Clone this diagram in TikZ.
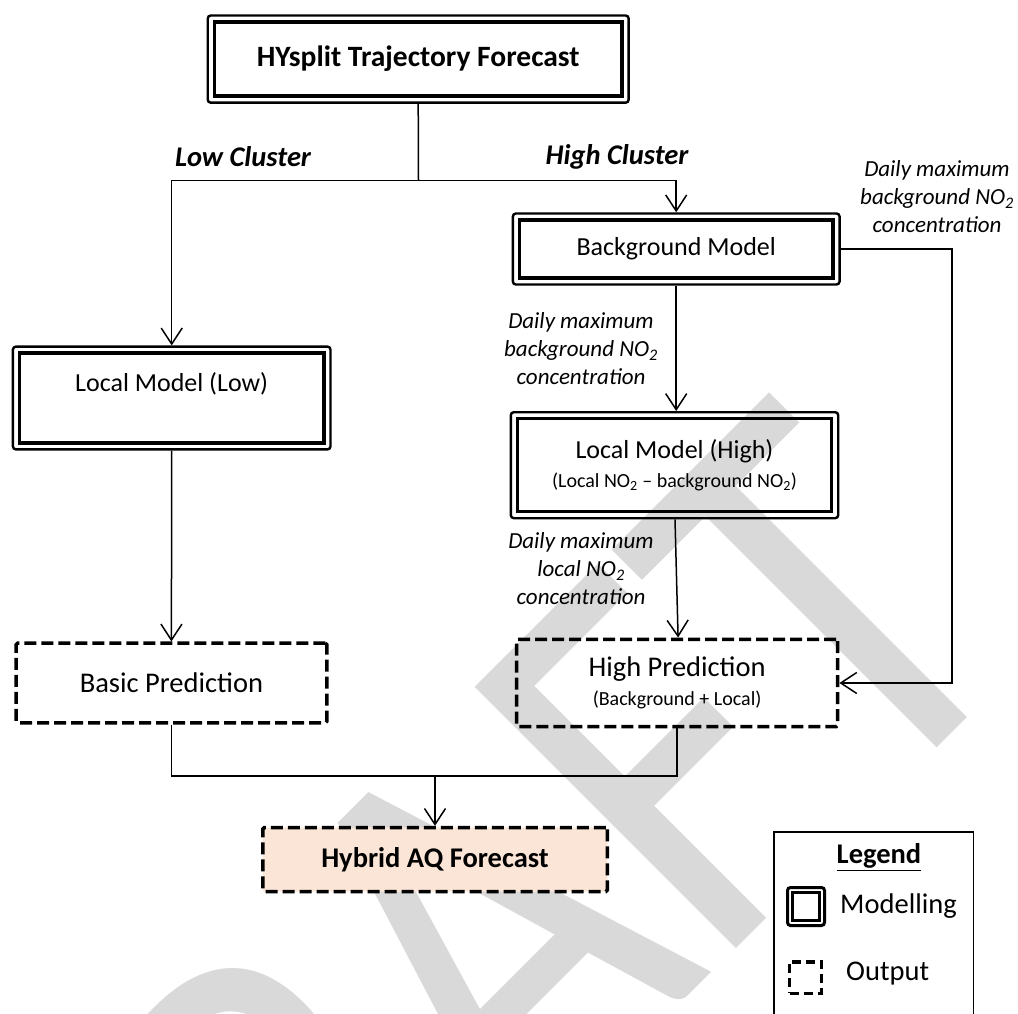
\documentclass[tikz,border=0pt]{standalone}
\usepackage{fontspec}
\usepackage{graphicx}
\setmainfont{Carlito}
\usetikzlibrary{arrows.meta}
\definecolor{peach}{HTML}{FBE5D6}
\definecolor{wmgray}{HTML}{D9D9D9}
\newcommand\fsz[2]{\fontsize{#1}{#2}\selectfont}
\begin{document}
\begin{tikzpicture}[x=1pt,y=-1pt,
 model/.style={draw, line width=2.4pt, rounded corners=3pt, inner sep=0pt, align=center, font=\fsz{26}{28.5}},
 outbox/.style={draw, line width=3.5pt, dash pattern=on 12pt off 5pt, rounded corners=1.5pt, inner sep=0pt, align=center},
 conn/.style={line width=1.5pt},
 arr/.style={conn, -{Straight Barb[length=16pt,width=21pt]}},
 lab/.style={inner sep=0pt, align=center, font=\itshape\fsz{23}{28}},
 clus/.style={inner sep=0pt, font=\bfseries\itshape\fsz{28.5}{34}},
 txt/.style={inner sep=0pt, font=\fsz{28.5}{34}}
]
\useasboundingbox (0,0) rectangle (1018,1014);
\clip (0,0) rectangle (1018,1014);
\fill[white] (0,0) rectangle (1018,1014);
% watermark
\node[rotate=45, anchor=base west, text=wmgray, font=\fsz{480}{480}, inner sep=0pt] (wm) at (123.6,1561) {\scalebox{1}[1.2]{DRAFT}};

% modelling boxes
\node[model, minimum width=420.9pt, minimum height=87.2pt, font=\bfseries\fsz{29.5}{34}] (hy) at (418.2,59.1) {HYsplit Trajectory Forecast};
\node[model, minimum width=326.7pt, minimum height=71pt] (bm) at (676.2,249) {Background Model};
\node[model, minimum width=317.6pt, minimum height=102.8pt] (lml) at (171.7,398) {Local Model (Low)\\{\fsz{20}{28.5}\vphantom{(NO\textsubscript{2})}}};
\node[model, minimum width=327.4pt, minimum height=106pt] (lmh) at (674.5,465.2) {Local Model (High)\\{\fsz{20}{28.5}(Local NO\textsubscript{2} – background NO\textsubscript{2})}};
\foreach \n in {hy,bm,lml,lmh}
  \draw[line width=3.4pt] ([xshift=7.7pt,yshift=-7.7pt]\n.north west) rectangle ([xshift=-7.7pt,yshift=7.7pt]\n.south east);

% output boxes
\node[outbox, minimum width=310.7pt, minimum height=79.6pt, font=\fsz{28.5}{29}] (bp) at (171.4,683) {Basic Prediction};
\node[outbox, minimum width=321.1pt, minimum height=87.4pt, font=\fsz{28.5}{29}] (hp) at (677.1,683) {High Prediction\\{\fsz{20}{29}(Background + Local)}};
\node[outbox, fill=peach, minimum width=344.5pt, minimum height=64pt, font=\bfseries\fsz{28.5}{34}] (hyb) at (435,859.6) {Hybrid AQ Forecast};

% labels
\node[clus] (lowc) at (243,157) {Low Cluster};
\node[clus] (highc) at (617,157) {High Cluster};
\node[lab] (l1) at (937,197) {Daily maximum\\background NO\textsubscript{2}\\concentration};
\node[lab] (l2) at (581,349) {Daily maximum\\background NO\textsubscript{2}\\concentration};
\node[lab] (l3) at (581,569) {Daily maximum\\local NO\textsubscript{2}\\concentration};

% connectors
\coordinate (split) at (418.5,180.5);
\draw[conn] (hy.south) -- (split);
\draw[arr] (split) -| (lml.north);
\draw[arr] (split) -| (bm.north);
\draw[arr] (bm.south) -- (bm.south |- lmh.north);
\draw[arr] ([xshift=0.5pt]lmh.south) -- ([xshift=1pt]hp.north);
\draw[arr] (bm.east) -- ++(111,0) |- (hp.east);
\draw[arr] (lml.south) -- (bp.north);
\coordinate (mj) at (435,776);
\draw[conn] (bp.south) |- (mj) -| (hp.south);
\draw[arr] (mj) -- (hyb.north);

% legend
\node[draw, line width=1.5pt, minimum width=199.5pt, minimum height=200pt, inner sep=0pt] (leg) at (873.75,932) {};
\node[inner sep=0pt, font=\bfseries\fsz{28.5}{34}] (legt) at (879,857) {\underline{Legend}};
\node[draw, line width=3pt, rounded corners=3pt, minimum width=37pt, minimum height=38pt, inner sep=0pt] (im) at (806,906.5) {};
\draw[line width=2.8pt] ([xshift=6.5pt,yshift=-6.5pt]im.north west) rectangle ([xshift=-6.5pt,yshift=6.5pt]im.south east);
\node[txt, anchor=west] (mt) at (840,906) {Modelling};
\node[draw, line width=3.5pt, dash pattern=on 9pt off 5pt, minimum width=32pt, minimum height=31.5pt, inner sep=0pt] (io) at (805.5,977.5) {};
\node[txt, anchor=west] (ot) at (846,974) {Output};
\end{tikzpicture}
\end{document}
